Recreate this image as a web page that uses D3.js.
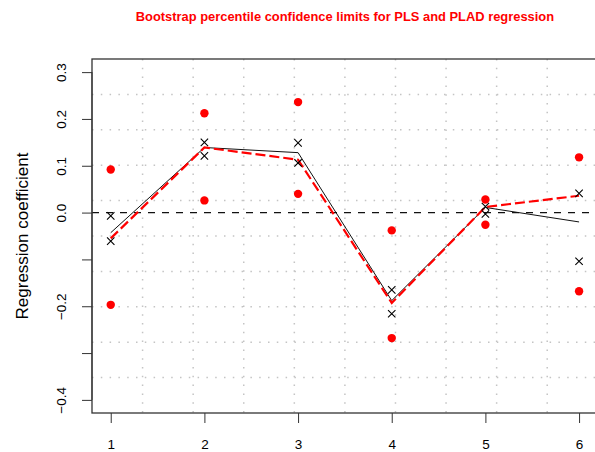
<!DOCTYPE html>
<html>
<head>
<meta charset="utf-8">
<script src="https://cdn.jsdelivr.net/npm/d3@7"></script>
<style>
  html, body { margin: 0; padding: 0; background: #fff; }
  svg { display: block; font-family: "Liberation Sans", Arial, Helvetica, sans-serif; }
</style>
</head>
<body>
<svg id="chart" width="595" height="452"></svg>
<script>
// ---- data ----
const categories = [1, 2, 3, 4, 5, 6];
const plsCoef   = [-0.043, 0.139, 0.128, -0.188, 0.011, -0.020];
const pladCoef  = [-0.055, 0.139, 0.113, -0.193, 0.012, 0.036];
const plsLower  = [-0.061, 0.121, 0.106, -0.216, -0.003, -0.104];
const plsUpper  = [-0.007, 0.150, 0.149, -0.165, 0.013, 0.041];
const pladLower = [-0.197, 0.026, 0.040, -0.268, -0.026, -0.168];
const pladUpper = [0.092, 0.212, 0.236, -0.038, 0.028, 0.118];
const yTicks = [-0.4, -0.3, -0.2, -0.1, 0.0, 0.1, 0.2, 0.3];
const yTickLabels = ["\u22120.4", "", "\u22120.2", "", "0.0", "0.1", "0.2", "0.3"];
const xTickLabels = ["1", "2", "3", "4", "5", "6"];
const titleText = "Bootstrap percentile confidence limits for PLS and PLAD regression";
const yLabelText = "Regression coefficient";

// ---- layout ----
const svg = d3.select("#chart");
const pLeft = 92, pRight = 597.8, pTop = 59, pBottom = 413;
const xlim = [0.8, 6.2], ylim = [-0.428, 0.328];
const x = d3.scaleLinear().domain(xlim).range([pLeft, pRight]);
const y = d3.scaleLinear().domain(ylim).range([pBottom, pTop]);

// grid (10 x 10 cells, like R grid(10,10))
const gridG = svg.append("g");
const nx = 10, ny = 10;
const gx = d3.range(1, nx).map(i => xlim[0] + (xlim[1] - xlim[0]) * i / nx);
const gy = d3.range(1, ny).map(i => ylim[0] + (ylim[1] - ylim[0]) * i / ny);
gridG.selectAll("line.gx").data(gx).join("line")
  .attr("x1", d => x(d)).attr("x2", d => x(d))
  .attr("y1", pTop).attr("y2", pBottom)
  .attr("stroke", "#c4c4c4").attr("stroke-width", 1.5)
  .attr("stroke-dasharray", "1.5,7.3");
gridG.selectAll("line.gy").data(gy).join("line")
  .attr("x1", pLeft).attr("x2", pRight)
  .attr("y1", d => y(d)).attr("y2", d => y(d))
  .attr("stroke", "#c4c4c4").attr("stroke-width", 1.5)
  .attr("stroke-dasharray", "1.5,7.3");

// zero line
svg.append("line")
  .attr("x1", pLeft).attr("x2", pRight)
  .attr("y1", y(0)).attr("y2", y(0))
  .attr("stroke", "#111").attr("stroke-width", 1.2)
  .attr("stroke-dasharray", "7,7");

// PLS coefficient line (black solid)
const line = d3.line().x((d, i) => x(categories[i])).y(d => y(d));
svg.append("path").datum(plsCoef)
  .attr("d", line).attr("fill", "none")
  .attr("stroke", "#111").attr("stroke-width", 1);

// PLAD coefficient line (red dashed)
svg.append("path").datum(pladCoef)
  .attr("d", line).attr("fill", "none")
  .attr("stroke", "#ff0000").attr("stroke-width", 2.2)
  .attr("stroke-dasharray", "10,4");

// crosses for PLS limits
const crossPath = (cx, cy, r) => `M${cx - r},${cy - r}L${cx + r},${cy + r}M${cx - r},${cy + r}L${cx + r},${cy - r}`;
const crossData = [];
categories.forEach((c, i) => { crossData.push([c, plsLower[i]]); crossData.push([c, plsUpper[i]]); });
svg.selectAll("path.cross").data(crossData).join("path")
  .attr("class", "cross")
  .attr("d", d => crossPath(x(d[0]), y(d[1]), 3.7))
  .attr("stroke", "#000").attr("stroke-width", 1.1).attr("fill", "none");

// red dots for PLAD limits
const dotData = [];
categories.forEach((c, i) => { dotData.push([c, pladLower[i]]); dotData.push([c, pladUpper[i]]); });
svg.selectAll("circle.dot").data(dotData).join("circle")
  .attr("class", "dot")
  .attr("cx", d => x(d[0])).attr("cy", d => y(d[1])).attr("r", 4.2)
  .attr("fill", "#ff0000");

// box
svg.append("rect")
  .attr("x", pLeft).attr("y", pTop)
  .attr("width", pRight - pLeft).attr("height", pBottom - pTop)
  .attr("fill", "none").attr("stroke", "#333").attr("stroke-width", 1.3);

// y axis
const yAxis = d3.axisLeft(y).tickValues(yTicks).tickSize(10).tickPadding(0)
  .tickFormat((d, i) => yTickLabels[i]);
const yG = svg.append("g").attr("transform", `translate(${pLeft},0)`).call(yAxis);
yG.select(".domain").attr("d", `M0,${y(yTicks[0])}V${y(yTicks[yTicks.length - 1])}`).attr("stroke", "#333");
yG.selectAll(".tick line").attr("stroke", "#333");
yG.selectAll(".tick text")
  .attr("x", 0).attr("y", 0).attr("dy", 0)
  .attr("text-anchor", "middle")
  .attr("transform", `translate(${65.5 - pLeft},0) rotate(-90)`)
  .attr("font-size", 13.5).attr("fill", "#000")
  .attr("font-family", "Liberation Sans, Arial, sans-serif");

// x axis
const xAxis = d3.axisBottom(x).tickValues(categories).tickSize(10).tickPadding(16)
  .tickFormat((d, i) => xTickLabels[i]);
const xG = svg.append("g").attr("transform", `translate(0,${pBottom})`).call(xAxis);
xG.select(".domain").remove();
xG.selectAll(".tick line").attr("stroke", "#333");
xG.selectAll(".tick text")
  .attr("y", 36).attr("dy", 0)
  .attr("font-size", 13.5).attr("fill", "#000")
  .attr("font-family", "Liberation Sans, Arial, sans-serif");

// title
svg.append("text")
  .attr("x", (pLeft + pRight) / 2).attr("y", 21)
  .attr("text-anchor", "middle")
  .attr("font-size", 12.9).attr("font-weight", "bold")
  .attr("fill", "#ff0000")
  .text(titleText);

// y label
svg.append("text")
  .attr("transform", `translate(28,${(pTop + pBottom) / 2}) rotate(-90)`)
  .attr("text-anchor", "middle")
  .attr("font-size", 17).attr("fill", "#000")
  .text(yLabelText);
</script>
</body>
</html>
